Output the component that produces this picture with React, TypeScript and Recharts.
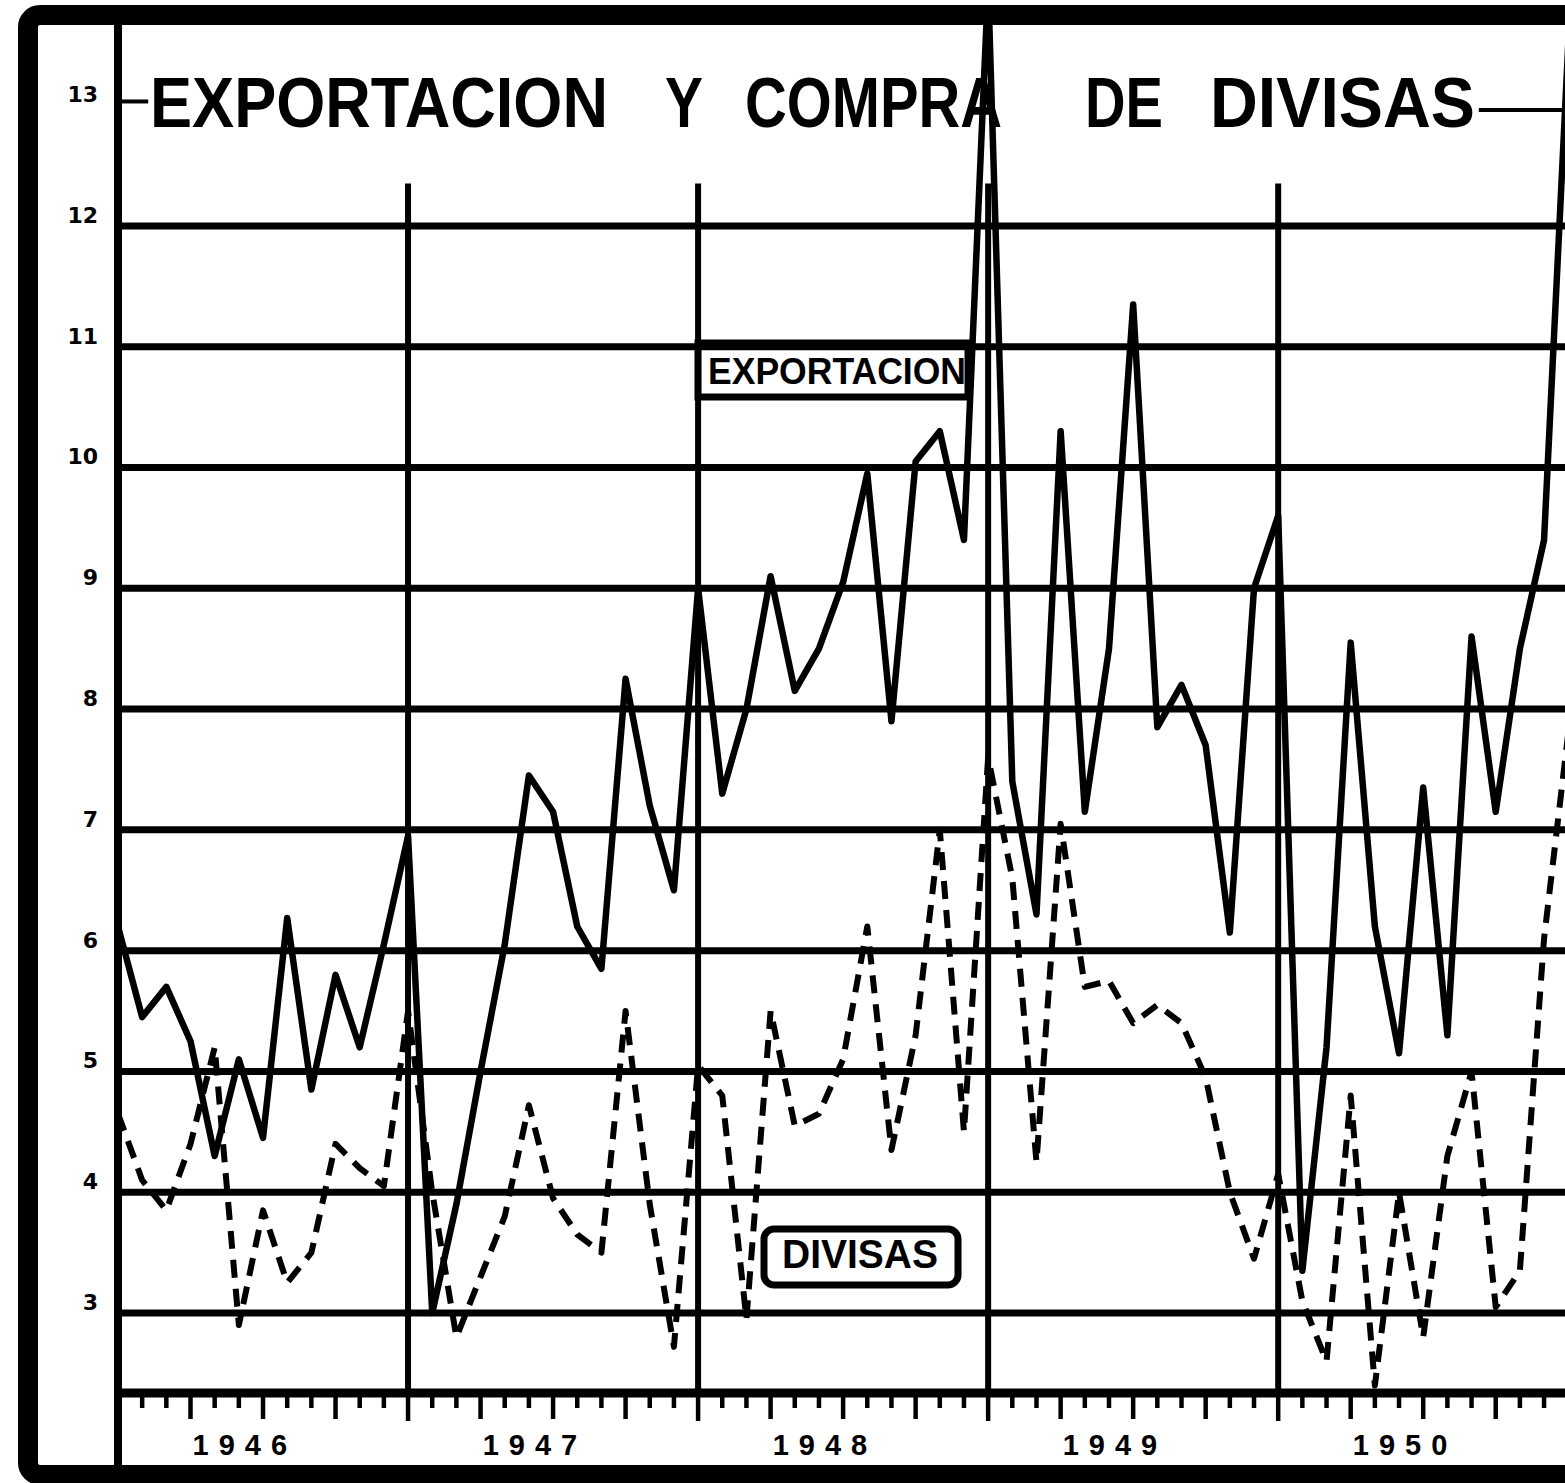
import React from 'react';
import { LineChart, Line, XAxis, YAxis, ReferenceLine, Customized } from 'recharts';

// Monthly values, Jan 1946 (index 0) to Jan 1951 (index 60)
const exportacion = [
  6.2, 5.45, 5.7, 5.25, 4.3, 5.1, 4.45, 6.27, 4.85, 5.8, 5.2, 6.05,
  6.95, 3.0, 3.9, 5.0, 6.05, 7.45, 7.15, 6.2, 5.85, 8.25, 7.2, 6.5,
  9.0, 7.3, 8.0, 9.1, 8.15, 8.5, 9.05, 9.95, 7.9, 10.05, 10.3, 9.4,
  14.0, 7.4, 6.3, 10.3, 7.15, 8.5, 11.35, 7.85, 8.2, 7.7, 6.15, 9.0,
  9.6, 3.35, 5.2, 8.55, 6.2, 5.15, 7.35, 5.3, 8.6, 7.15, 8.5, 9.4,
  13.5,
];
const divisas = [
  4.65, 4.1, 3.85, 4.4, 5.2, 2.9, 3.85, 3.25, 3.5, 4.4, 4.2, 4.05,
  5.5, 4.0, 2.8, 3.3, 3.8, 4.72, 3.95, 3.65, 3.5, 5.5, 3.9, 2.72,
  5.05, 4.8, 2.95, 5.5, 4.55, 4.65, 5.1, 6.2, 4.35, 5.3, 7.0, 4.5,
  7.6, 6.6, 4.25, 7.05, 5.7, 5.75, 5.4, 5.55, 5.4, 4.95, 4.0, 3.45,
  4.15, 3.1, 2.6, 4.8, 2.4, 4.0, 2.8, 4.3, 5.0, 3.05, 3.35, 6.1,
  7.8,
];
const years = ['1946', '1947', '1948', '1949', '1950'];
const yTickValues = [3, 4, 5, 6, 7, 8, 9, 10, 11, 12, 13];
const gridValues = [3, 4, 5, 6, 7, 8, 9, 10, 11, 12];
const yearBoundaries = [12, 24, 36, 48];
const titleWords = ['EXPORTACION', 'Y', 'COMPRA', 'DE', 'DIVISAS'];

const data = exportacion.map((v, i) => ({ i, exp: v, div: divisas[i] }));
const monthTicks = Array.from({ length: 62 }, (_, k) => k);

const Y_MIN = 2.338;
const Y_MAX = 13.663;

// layout of title words (pixels)
const titleLayout = [
  { x: 150, w: 458 },
  { x: 665, w: 38 },
  { x: 745, w: 257 },
  { x: 1085, w: 78 },
  { x: 1210, w: 265 },
];

const YTick = (props: any) => {
  const { x, y, payload } = props;
  return (
    <text
      x={x - 20}
      y={y - 9}
      textAnchor="end"
      dominantBaseline="middle"
      fontFamily="DejaVu Sans"
      fontWeight="bold"
      fontSize={22}
      fill="#000"
    >
      {payload.value}
    </text>
  );
};

const MonthTick = (props: any) => {
  const { x, y, payload } = props;
  const i = payload.value as number;
  const len = i % 12 === 0 ? 28 : i % 3 === 0 ? 26 : 15;
  const label = i % 12 === 5 ? years[Math.floor(i / 12)] : null;
  return (
    <g>
      <line x1={x} x2={x} y1={y} y2={y + len} stroke="#000" strokeWidth={4.5} />
      {label && (
        <text
          x={x + 6}
          y={y + 62}
          textAnchor="middle"
          fontFamily="Liberation Sans"
          fontWeight="bold"
          fontSize={29}
          letterSpacing={10}
          fill="#000"
        >
          {label}
        </text>
      )}
    </g>
  );
};

const FrameLayer = () => (
  <g>
    <rect x={28} y={15} width={1600} height={1460} rx={12} fill="none" stroke="#000" strokeWidth={20} />
    <line x1={118} x2={118} y1={20} y2={1470} stroke="#000" strokeWidth={8} />
    {titleWords.map((w, k) => (
      <text
        key={w}
        x={titleLayout[k].x}
        y={127}
        textLength={titleLayout[k].w}
        lengthAdjust="spacingAndGlyphs"
        fontFamily="Liberation Sans"
        fontWeight="bold"
        fontSize={70}
        fill="#000"
      >
        {w}
      </text>
    ))}
  </g>
);

const LabelsLayer = () => (
  <g>
    <rect x={698} y={343} width={270} height={54} fill="#fff" stroke="#000" strokeWidth={7} />
    <text
      x={708}
      y={384}
      textLength={258}
      lengthAdjust="spacingAndGlyphs"
      fontFamily="Liberation Sans"
      fontWeight="bold"
      fontSize={37}
      fill="#000"
    >
      EXPORTACION
    </text>
    <rect x={764} y={1229} width={194} height={56} rx={10} fill="#fff" stroke="#000" strokeWidth={7} />
    <text
      x={782}
      y={1268}
      textLength={156}
      lengthAdjust="spacingAndGlyphs"
      fontFamily="Liberation Sans"
      fontWeight="bold"
      fontSize={40}
      fill="#000"
    >
      DIVISAS
    </text>
  </g>
);

export default function App() {
  return (
    <div
      style={{
        position: 'fixed',
        left: 0,
        top: 0,
        width: 1565,
        height: 1483,
        overflow: 'hidden',
        background: '#fff',
      }}
    >
      <LineChart
        width={1600}
        height={1483}
        data={data}
        margin={{ top: 25, right: 7.6, bottom: 0, left: 0 }}
      >
        <Customized component={<FrameLayer />} />
        <XAxis
          dataKey="i"
          type="number"
          domain={[0, 61]}
          ticks={monthTicks}
          interval={0}
          height={90}
          tickSize={0}
          tickMargin={0}
          axisLine={{ stroke: '#000', strokeWidth: 9 }}
          tickLine={false}
          tick={<MonthTick />}
          allowDataOverflow
        />
        <YAxis
          type="number"
          domain={[Y_MIN, Y_MAX]}
          ticks={yTickValues}
          interval={0}
          width={118}
          tickSize={0}
          tickMargin={0}
          axisLine={false}
          tickLine={false}
          tick={<YTick />}
          allowDataOverflow
        />
        {gridValues.map((v) => (
          <ReferenceLine key={`g${v}`} y={v} stroke="#000" strokeWidth={7} />
        ))}
        {yearBoundaries.map((b) => (
          <ReferenceLine
            key={`yb${b}`}
            segment={[
              { x: b, y: 12.35 },
              { x: b, y: Y_MIN },
            ]}
            stroke="#000"
            strokeWidth={6}
          />
        ))}
        <ReferenceLine
          segment={[
            { x: 0, y: 13.03 },
            { x: 1.25, y: 13.03 },
          ]}
          stroke="#000"
          strokeWidth={4}
        />
        <ReferenceLine
          segment={[
            { x: 56.3, y: 12.96 },
            { x: 61, y: 12.96 },
          ]}
          stroke="#000"
          strokeWidth={4}
        />
        <Line
          type="linear"
          dataKey="exp"
          stroke="#000"
          strokeWidth={6.5}
          strokeLinejoin="round"
          dot={false}
          isAnimationActive={false}
        />
        <Line
          type="linear"
          dataKey="div"
          stroke="#000"
          strokeWidth={6}
          strokeDasharray="18 11"
          strokeLinejoin="round"
          dot={false}
          isAnimationActive={false}
        />
        <Customized component={<LabelsLayer />} />
      </LineChart>
    </div>
  );
}
